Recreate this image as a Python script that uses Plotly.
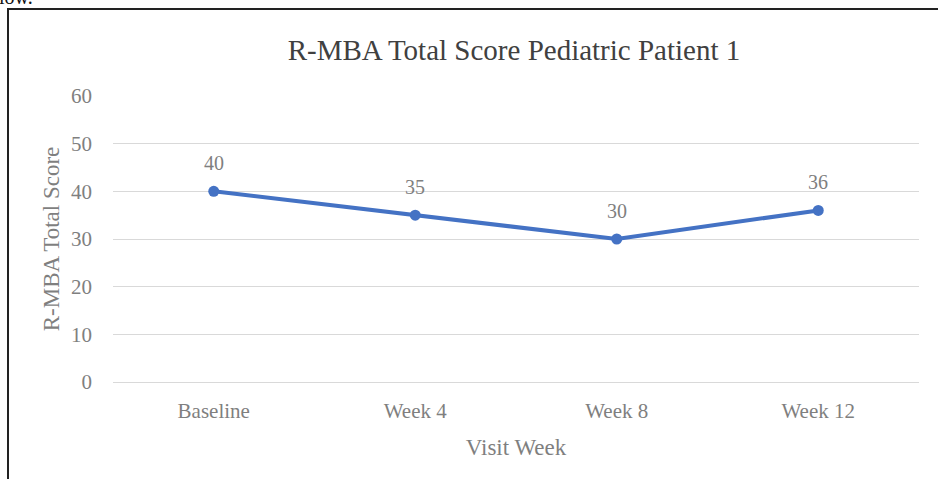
import plotly.graph_objects as go

visits = ["Baseline", "Week 4", "Week 8", "Week 12"]
scores = [40, 35, 30, 36]
y_ticks = [0, 10, 20, 30, 40, 50, 60]

W, H = 938, 479
L, R, T, B = 113, 19, 96, 97
pw, ph = W - L - R, H - T - B

def px(x):
    return (x - L) / pw

def py(y):
    return (H - B - y) / ph

font = "Liberation Serif, Times New Roman, serif"
gray = "#7f7f7f"

fig = go.Figure()
fig.add_trace(go.Scatter(
    x=visits, y=scores, mode="lines+markers",
    line=dict(color="#4472C4", width=4),
    marker=dict(color="#4472C4", size=11),
    cliponaxis=False, showlegend=False,
))

annotations = [dict(x=v, y=s, text=str(s), xref="x", yref="y", showarrow=False,
                    yshift=28, font=dict(family=font, size=20, color=gray))
               for v, s in zip(visits, scores)]
annotations.append(dict(text="low.", xref="paper", yref="paper", x=px(-3), y=py(10),
                        xanchor="left", yanchor="bottom", showarrow=False,
                        font=dict(family=font, size=20, color="#111111")))

fig.update_layout(
    width=W, height=H,
    margin=dict(l=L, r=R, t=T, b=B),
    paper_bgcolor="white", plot_bgcolor="white",
    title=dict(text="R-MBA Total Score Pediatric Patient 1",
               font=dict(family=font, size=29, color="#404040"),
               x=px(514), xref="paper", xanchor="center",
               y=1 - 50 / H, yanchor="middle"),
    xaxis=dict(range=[-0.5, 3.5], showgrid=False, zeroline=False,
               tickfont=dict(family=font, size=21, color=gray),
               ticks="", showline=False, ticklabelstandoff=14,
               title=dict(text="Visit Week", font=dict(family=font, size=23, color=gray),
                          standoff=16)),
    yaxis=dict(range=[0, 60], tickvals=y_ticks, showgrid=True, gridcolor="#d9d9d9",
               gridwidth=1, zeroline=True, zerolinecolor="#d9d9d9", zerolinewidth=1,
               tickfont=dict(family=font, size=21, color=gray), ticks="",
               ticklabelstandoff=20,
               title=dict(text="R-MBA Total Score", font=dict(family=font, size=23, color=gray),
                          standoff=4)),
    shapes=[dict(type="rect", xref="paper", yref="paper",
                 x0=px(8), x1=px(945), y0=py(486), y1=py(9),
                 line=dict(color="#222222", width=2), fillcolor="rgba(0,0,0,0)", layer="above")],
    annotations=annotations,
)

fig.write_html("out.html", config={"displayModeBar": False},
               post_script="document.body.style.margin='0';document.body.style.overflow='hidden';")
